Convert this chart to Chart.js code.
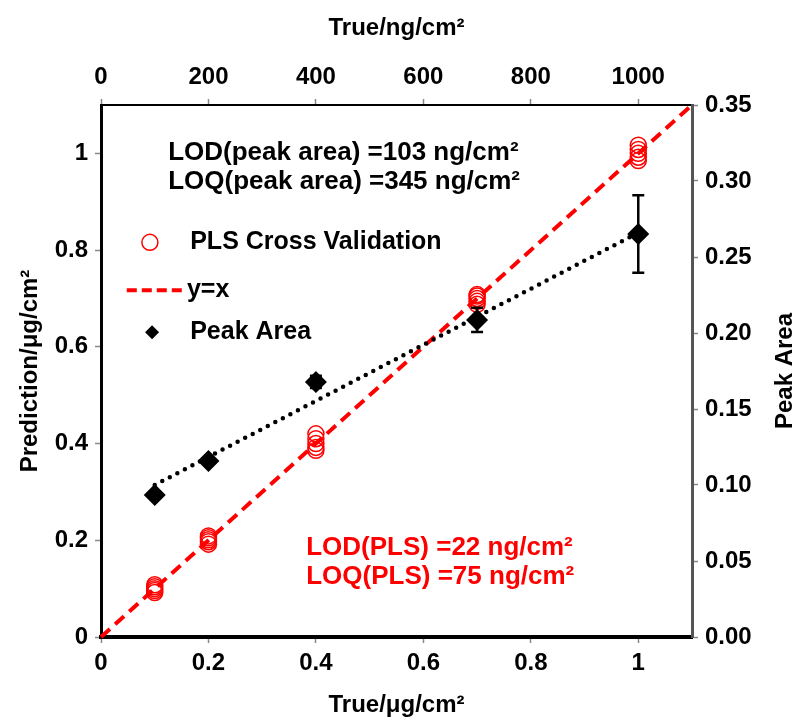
<!DOCTYPE html>
<html>
<head>
<meta charset="utf-8">
<script src="https://cdn.jsdelivr.net/npm/chart.js@4.4.0/dist/chart.umd.min.js"></script>
<style>
  body { margin: 0; background: #fff; }
  canvas { display: block; }
</style>
</head>
<body>
<canvas id="chart" width="798" height="717"></canvas>
<script>
// true loadings (ug/cm2)
const trueLevels = [0.1, 0.2, 0.4, 0.7, 1.0];
// PLS cross validation predictions, several replicates per level
const plsPred = [
  [0.092, 0.096, 0.100, 0.104, 0.108],
  [0.192, 0.197, 0.201, 0.205, 0.209],
  [0.386, 0.392, 0.400, 0.410, 0.420],
  [0.688, 0.694, 0.700, 0.705, 0.708],
  [0.985, 0.992, 1.000, 1.008, 1.017]
];
// peak area (right axis) with error
const peakArea = [0.0934, 0.1158, 0.1678, 0.2086, 0.2651];
const peakErr = [0, 0, 0.004, 0.008, 0.0255];
// trend line of peak area
const trendX = [0.1, 1.0];
const trendY = [0.100, 0.266];
// y = x reference
const identityX = [0, 1.1];

const xTicks = [0, 0.2, 0.4, 0.6, 0.8, 1];
const topTicks = [0, 200, 400, 600, 800, 1000];
const leftTicks = [0, 0.2, 0.4, 0.6, 0.8, 1];
const rightTicks = [0, 0.05, 0.10, 0.15, 0.20, 0.25, 0.30, 0.35];

const FONT = '"Liberation Sans", Arial, sans-serif';
const tickFont = { family: FONT, size: 24, weight: 'bold' };
const titleFont = { family: FONT, size: 24, weight: 'bold', lineHeight: 1 };
const RED = '#ff0000';

const plsPoints = [];
trueLevels.forEach((x, i) => plsPred[i].forEach(y => plsPoints.push({ x, y })));

const gridOpts = { drawOnChartArea: false, drawTicks: true, tickLength: 6, color: '#888', tickWidth: 1.5 };

// error bars, legend and notes
const overlay = {
  id: 'overlay',
  afterDatasetsDraw(chart) {
    const ctx = chart.ctx;
    const xs = chart.scales.x, ys = chart.scales.y2;
    ctx.save();
    ctx.strokeStyle = '#000';
    ctx.lineWidth = 2.5;
    trueLevels.forEach((x, i) => {
      if (!peakErr[i]) return;
      const px = xs.getPixelForValue(x);
      const top = ys.getPixelForValue(peakArea[i] + peakErr[i]);
      const bot = ys.getPixelForValue(peakArea[i] - peakErr[i]);
      ctx.beginPath();
      ctx.moveTo(px, top); ctx.lineTo(px, bot);
      ctx.moveTo(px - 6, top); ctx.lineTo(px + 6, top);
      ctx.moveTo(px - 6, bot); ctx.lineTo(px + 6, bot);
      ctx.stroke();
    });
    ctx.restore();
  },
  afterDraw(chart) {
    const ctx = chart.ctx;
    const xs = chart.scales.x, ys = chart.scales.y;
    const X = v => xs.getPixelForValue(v), Y = v => ys.getPixelForValue(v);
    ctx.save();
    ctx.textBaseline = 'middle';
    ctx.textAlign = 'left';
    ctx.font = 'bold 25px ' + FONT;

    // legend
    ctx.strokeStyle = RED;
    ctx.lineWidth = 1.5;
    ctx.beginPath();
    ctx.arc(X(0.091), Y(0.816), 8, 0, Math.PI * 2);
    ctx.stroke();
    ctx.fillStyle = '#000';
    ctx.fillText('PLS Cross Validation', X(0.166), Y(0.816));

    ctx.lineWidth = 4;
    ctx.setLineDash([10, 5]);
    ctx.beginPath();
    ctx.moveTo(X(0.048), Y(0.717));
    ctx.lineTo(X(0.155), Y(0.717));
    ctx.stroke();
    ctx.setLineDash([]);
    ctx.fillText('y=x', X(0.160), Y(0.717));

    const dx = X(0.095), dy = Y(0.630);
    ctx.beginPath();
    ctx.moveTo(dx - 7, dy); ctx.lineTo(dx, dy - 7); ctx.lineTo(dx + 7, dy); ctx.lineTo(dx, dy + 7);
    ctx.closePath();
    ctx.fill();
    ctx.fillText('Peak Area', X(0.166), Y(0.630));

    // detection limits
    ctx.font = 'bold 26px ' + FONT;
    ctx.fillText('LOD(peak area) =103 ng/cm²', X(0.125), Y(1.002));
    ctx.fillText('LOQ(peak area) =345 ng/cm²', X(0.125), Y(0.942));
    ctx.fillStyle = RED;
    ctx.fillText('LOD(PLS) =22 ng/cm²', X(0.382), Y(0.184));
    ctx.fillText('LOQ(PLS) =75 ng/cm²', X(0.382), Y(0.124));

    // right axis title, reading bottom to top
    const area = chart.chartArea;
    ctx.fillStyle = '#000';
    ctx.font = 'bold 24px ' + FONT;
    ctx.translate(785, (area.top + area.bottom) / 2);
    ctx.rotate(-Math.PI / 2);
    ctx.textAlign = 'center';
    ctx.fillText('Peak Area', 0, 0);
    ctx.restore();
  }
};

new Chart(document.getElementById('chart'), {
  type: 'scatter',
  data: {
    datasets: [
      {
        label: 'Peak Area',
        data: trueLevels.map((x, i) => ({ x, y: peakArea[i] })),
        yAxisID: 'y2',
        pointStyle: 'rectRot',
        pointRadius: 11,
        pointBackgroundColor: '#000',
        pointBorderColor: '#000',
        borderWidth: 0
      },
      {
        label: 'trend',
        data: trendX.map((x, i) => ({ x, y: trendY[i] })),
        yAxisID: 'y2',
        showLine: true,
        pointRadius: 0,
        borderColor: '#000',
        borderWidth: 4.5,
        borderDash: [0, 8.5],
        borderCapStyle: 'round'
      },
      {
        label: 'y=x',
        data: identityX.map(x => ({ x, y: x })),
        showLine: true,
        pointRadius: 0,
        borderColor: RED,
        borderWidth: 4,
        borderDash: [12, 7]
      },
      {
        label: 'PLS Cross Validation',
        data: plsPoints,
        pointStyle: 'circle',
        pointRadius: 8,
        pointBorderWidth: 1.5,
        pointBorderColor: RED,
        pointBackgroundColor: 'rgba(0,0,0,0)'
      }
    ]
  },
  options: {
    responsive: false,
    animation: false,
    clip: false,
    layout: { padding: 0 },
    plugins: { legend: { display: false }, tooltip: { enabled: false } },
    scales: {
      x: {
        type: 'linear', position: 'bottom', min: 0, max: 1.1,
        afterBuildTicks: s => { s.ticks = xTicks.map(v => ({ value: v })); },
        afterFit: s => { s.height = 80; },
        ticks: { font: tickFont, color: '#000', padding: 6, callback: v => String(v) },
        grid: gridOpts,
        border: { color: '#000', width: 4 },
        title: { display: true, text: 'True/μg/cm²', font: titleFont, color: '#000', padding: { top: 0, bottom: 0 } }
      },
      x2: {
        type: 'linear', position: 'top', min: 0, max: 1100,
        afterBuildTicks: s => { s.ticks = topTicks.map(v => ({ value: v })); },
        afterFit: s => { s.height = 105; },
        ticks: { font: tickFont, color: '#000', padding: 7, callback: v => String(v) },
        grid: gridOpts,
        border: { color: '#000', width: 2 },
        title: { display: true, text: 'True/ng/cm²', font: titleFont, color: '#000', padding: { top: 16, bottom: 0 } }
      },
      y: {
        type: 'linear', position: 'left', min: 0, max: 1.1,
        afterBuildTicks: s => { s.ticks = leftTicks.map(v => ({ value: v })); },
        afterFit: s => { s.width = 101; },
        ticks: { font: tickFont, color: '#000', padding: 7, callback: v => String(v) },
        grid: gridOpts,
        border: { color: '#000', width: 3 },
        title: { display: true, text: 'Prediction/μg/cm²', font: titleFont, color: '#000', padding: { top: 18, bottom: 0 } }
      },
      y2: {
        type: 'linear', position: 'right', min: 0, max: 0.35,
        afterBuildTicks: s => { s.ticks = rightTicks.map(v => ({ value: v })); },
        afterFit: s => { s.width = 106; },
        ticks: { font: tickFont, color: '#000', padding: 7, callback: v => v.toFixed(2) },
        grid: gridOpts,
        border: { color: '#555', width: 3 }
      }
    }
  },
  plugins: [overlay]
});
</script>
</body>
</html>
